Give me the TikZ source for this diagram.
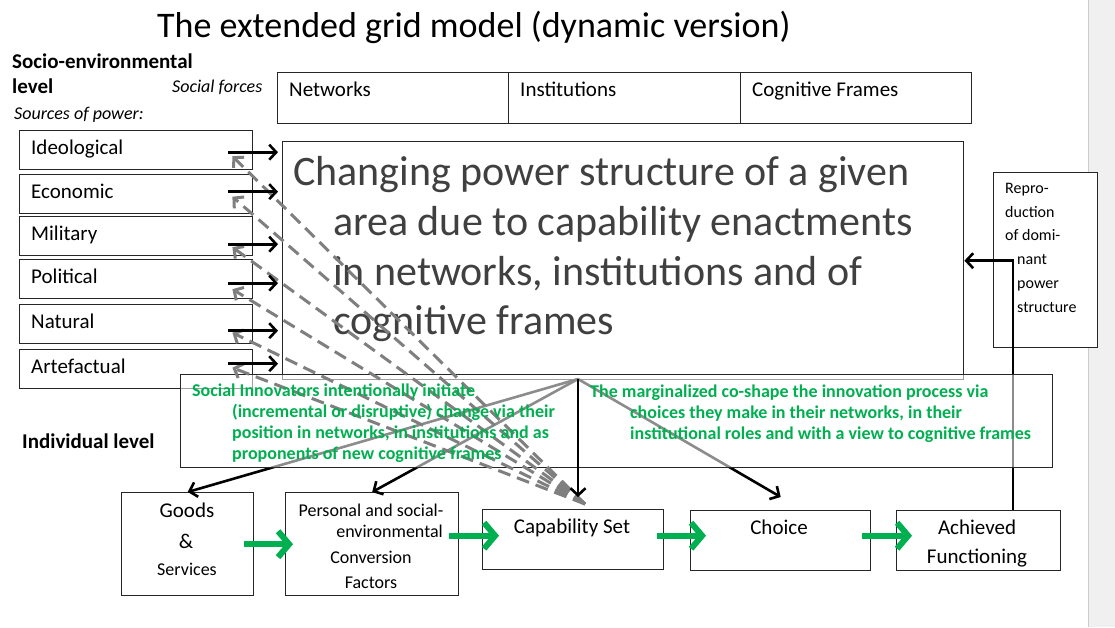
\documentclass[tikz,border=0pt]{standalone}
\usepackage{fontspec}
\setmainfont{Carlito}
\usetikzlibrary{calc,arrows.meta}

\definecolor{vert}{HTML}{00B050}
\definecolor{grisfonce}{HTML}{404040}
\definecolor{gristiret}{HTML}{7F7F7F}
\newcommand{\taille}[1]{\fontsize{#1}{#1}\selectfont}

\begin{document}
\begin{tikzpicture}[x=1pt,y=-1pt,
    boite/.style={draw=black!85,line width=1.4pt,inner sep=0pt,anchor=north west},
    txt/.style={inner sep=0pt,anchor=base west},
    noir/.style={line width=2.6pt,-{Straight Barb[length=7pt,width=15pt]}},
    tiret/.style={draw=gristiret,line width=3pt,dash pattern=on 13pt off 7pt,-{Straight Barb[length=7pt,width=15pt]}},
    vfleche/.style={draw=vert,line width=6pt,-{Straight Barb[length=11pt,width=26pt]}}]

    % Cadre de la page
    \useasboundingbox (0,0) rectangle (1115,627);
    \fill[black!6] (1088,0) rectangle (1115,627);
    \draw[black!20] (1088,0) -- (1088,627);

    % Titre et niveaux
    \node[txt,font=\taille{36}] (titre) at (157,37) {The extended grid model (dynamic version)};
    \node[txt,font=\bfseries\taille{21}] (socio) at (12,68) {Socio-environmental};
    \node[txt,font=\bfseries\taille{21}] (niveau) at (12,93) {level};
    \node[txt,font=\itshape\taille{18}] (forces) at (172,92) {Social forces};
    \node[txt,font=\itshape\taille{18}] (sources) at (14,119) {Sources of power:};
    \node[txt,font=\bfseries\taille{21}] (indiv) at (22,448) {Individual level};

    % Forces sociales
    \node[boite,minimum width=231,minimum height=51] (net) at (277,72) {};
    \node[boite,minimum width=232,minimum height=51] (inst) at (508,72) {};
    \node[boite,minimum width=231,minimum height=51] (cog) at (740,72) {};
    \node[txt,font=\taille{21}] (net-t) at (289,96) {Networks};
    \node[txt,font=\taille{21}] (inst-t) at (520,96) {Institutions};
    \node[txt,font=\taille{21}] (cog-t) at (752,96) {Cognitive Frames};

    % Sources de pouvoir
    \foreach \nom/\texte/\haut in {ideo/Ideological/130,eco/Economic/174,mil/Military/216,pol/Political/259,nat/Natural/304,art/Artefactual/349}{
        \node[boite,minimum width=233,minimum height=39] (\nom) at (19,\haut) {};
        \node[txt,font=\taille{21}] (\nom-t) at (31,\haut+24) {\texte};
    }

    % Structure de pouvoir
    \node[boite,minimum width=681,minimum height=238] (main) at (282,141) {};
    \node[txt,font=\taille{42},text=grisfonce] (l1) at (293,185) {Changing power structure of a given};
    \node[txt,font=\taille{42},text=grisfonce] (l2) at (333,235) {area due to capability enactments};
    \node[txt,font=\taille{42},text=grisfonce] (l3) at (333,285) {in networks, institutions and of};
    \node[txt,font=\taille{42},text=grisfonce] (l4) at (333,334) {cognitive frames};

    % Reproduction
    \node[boite,fill=white,minimum width=104,minimum height=175] (repro) at (993,172) {};
    \node[txt,font=\taille{16}] (r1) at (1005,193) {Repro-};
    \node[txt,font=\taille{16}] (r2) at (1005,217) {duction};
    \node[txt,font=\taille{16}] (r3) at (1005,240) {of domi-};
    \node[txt,font=\taille{16}] (r4) at (1017,264) {nant};
    \node[txt,font=\taille{16}] (r5) at (1017,288) {power};
    \node[txt,font=\taille{16}] (r6) at (1017,312) {structure};

    % Niveau individuel
    \node[boite,minimum width=132,minimum height=103] (goods) at (121,492) {};
    \node[boite,minimum width=173,minimum height=103] (pers) at (285,492) {};
    \node[boite,minimum width=181,minimum height=60] (cap) at (482,509) {};
    \node[boite,minimum width=180,minimum height=60] (choice) at (690,510) {};
    \node[boite,minimum width=164,minimum height=60] (ach) at (896,510) {};

    \node[txt,anchor=base,font=\taille{21}] (g1) at (187,517) {Goods};
    \node[txt,anchor=base,font=\taille{21}] (g2) at (186,548) {\&};
    \node[txt,anchor=base,font=\taille{18}] (g3) at (187,575) {Services};
    \node[txt,anchor=base,font=\taille{18}] (p1) at (371,516) {Personal and social-};
    \node[txt,anchor=base east,font=\taille{18}] (p2) at (443,537) {environmental};
    \node[txt,anchor=base,font=\taille{18}] (p3) at (371,563) {Conversion};
    \node[txt,anchor=base,font=\taille{18}] (p4) at (371,588) {Factors};
    \node[txt,anchor=base,font=\taille{21}] (c1) at (572,533) {Capability Set};
    \node[txt,anchor=base,font=\taille{21}] (ch1) at (779,534) {Choice};
    \node[txt,anchor=base,font=\taille{21}] (a1) at (977,534) {Achieved};
    \node[txt,anchor=base,font=\taille{21}] (a2) at (977,563) {Functioning};

    % Points de depart des fleches
    \coordinate (apex) at (578,379);
    \coordinate (dep) at (585,504);
    \coordinate (coude) at (1013,260);

    % Fleches depuis la structure
    \draw[noir] (apex) -- (goods.north);
    \draw[noir] (apex) -- (pers.north);
    \draw[noir] (apex) -- ([yshift=13pt]choice.north);
    \draw[noir] (ach.north -| coude) |- (main.east);

    % Innovateurs et marginalises
    \node[boite,fill=white,fill opacity=0.55,minimum width=872,minimum height=93] (vbox) at (180,374) {};

    % Fleches en tirets vers les sources
    \foreach \nom/\dt in {ideo/6,eco/2.5,mil/11,pol/10,nat/8.5,art/-1.5}
        \draw[tiret] (dep) -- ($(\nom.east)+(-21,\dt)$);

    \draw[noir,shorten >=12pt] (apex) -- (apex |- cap.north);

    % Fleches des sources vers la structure
    \foreach \nom/\dy in {ideo/2,eco/-2.5,mil/8,pol/4,nat/6.5,art/-5.5}
        \draw[noir] ($(\nom.east)+(-25,\dy)$) -- ($(\nom.east -| main.west)+(-4,\dy)$);

    % Textes verts
    \node[txt,text=vert,font=\bfseries\taille{18}] (v1) at (192,396) {Social Innovators intentionally initiate};
    \node[txt,text=vert,font=\bfseries\taille{18}] (v2) at (232,417) {(incremental or disruptive) change via their};
    \node[txt,text=vert,font=\bfseries\taille{18}] (v3) at (232,438) {position in networks, in institutions and as};
    \node[txt,text=vert,font=\bfseries\taille{18}] (v4) at (232,459) {proponents of new cognitive frames};
    \node[txt,text=vert,font=\bfseries\taille{18}] (m1) at (590,397) {The marginalized co-shape the innovation process via};
    \node[txt,text=vert,font=\bfseries\taille{18}] (m2) at (630,418) {choices they make in their networks, in their};
    \node[txt,text=vert,font=\bfseries\taille{18}] (m3) at (630,439) {institutional roles and with a view to cognitive frames};

    % Fleches vertes
    \draw[vfleche] ([xshift=-10pt]goods.east) -- ([xshift=8pt]pers.west);
    \draw[vfleche] ($(pers.east)+(-10,-8.5)$) -- ($(cap.west)+(17,-4)$);
    \draw[vfleche] ($(cap.east)+(-7,-4)$) -- ($(choice.west)+(16,-5)$);
    \draw[vfleche] ($(choice.east)+(-9,-5)$) -- ($(ach.west)+(16,-5)$);
\end{tikzpicture}
\end{document}
